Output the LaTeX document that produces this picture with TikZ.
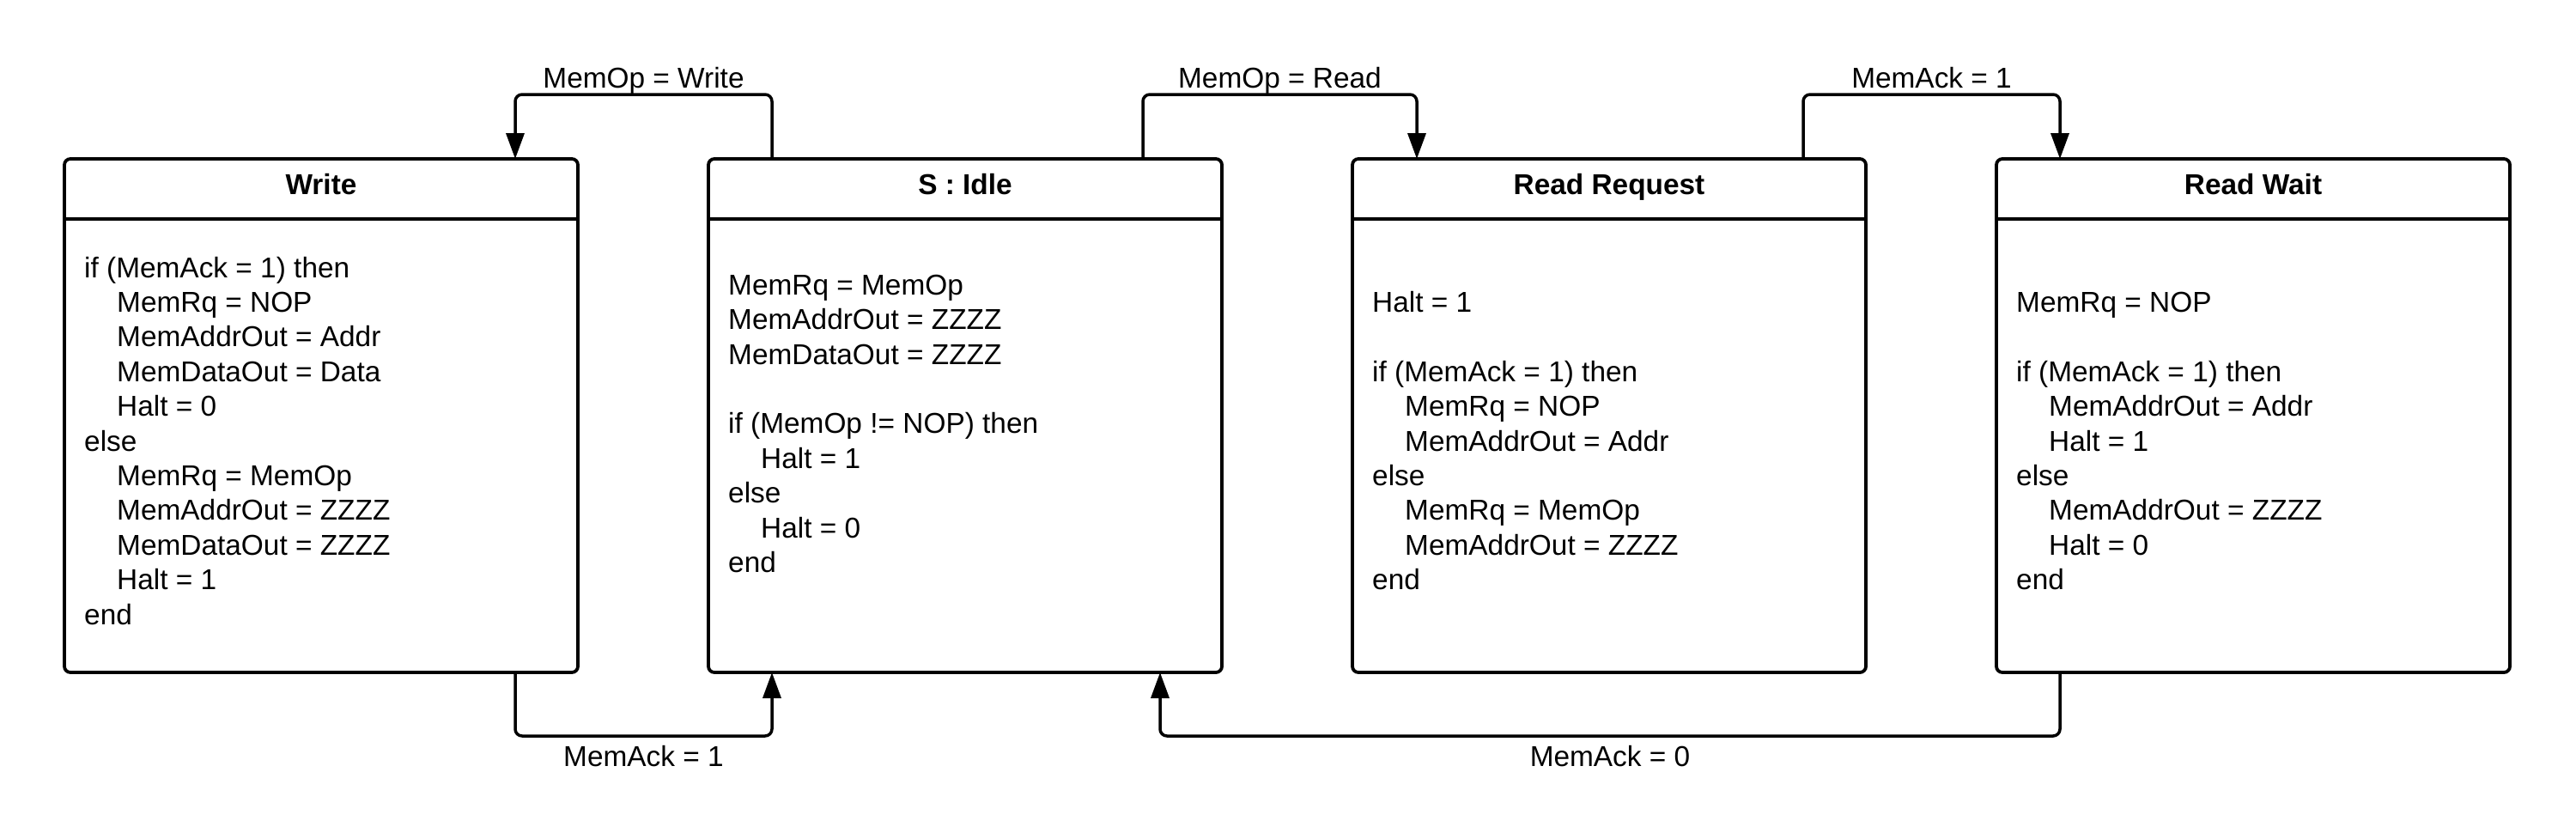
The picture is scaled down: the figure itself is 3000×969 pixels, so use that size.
\documentclass[tikz,border=0pt]{standalone}
\usepackage{fontspec}
\setmainfont{Liberation Sans}
\usetikzlibrary{arrows.meta,calc}
\newcommand{\tline}[1]{\hbox{#1}}
\newcommand{\tabin}{\kern38pt}
\tikzset{
  state/.style={draw, line width=3.8pt, rounded corners=7pt, minimum width=598pt, minimum height=598pt, inner sep=0pt, outer sep=0pt},
  hdr/.style={line width=3.8pt},
  title/.style={font=\bfseries\fontsize{33.4pt}{38pt}\selectfont, anchor=base, inner sep=0pt},
  body/.style={font=\fontsize{33.4pt}{40.4pt}\selectfont, anchor=base west, inner sep=0pt},
  conn/.style={line width=3.5pt, rounded corners=8pt, -{Triangle[length=30pt,width=21pt]}},
  lbl/.style={font=\fontsize{33.4pt}{38pt}\selectfont, anchor=base, inner sep=0pt},
}
\begin{document}
\begin{tikzpicture}[x=1pt,y=-1pt]
\useasboundingbox (0,0) rectangle (3000,969);
% states
\node[state] (write) at (374,484) {};
\node[state] (idle)  at (1124,484) {};
\node[state] (rreq)  at (1874,484) {};
\node[state] (rwait) at (2624,484) {};
\foreach \b in {write,idle,rreq,rwait}
  \draw[hdr] ($(\b.north west)+(0,70)$) -- ($(\b.north east)+(0,70)$);
% titles
\node[title] (twrite) at (374,226)  {Write};
\node[title] (tidle)  at (1124,226) {S : Idle};
\node[title] (trreq)  at (1874,226) {Read Request};
\node[title] (trwait) at (2624,226) {Read Wait};
% bodies
\node[body] (bwrite) at (98,323) {\vtop{%
  \tline{if (MemAck = 1) then}
  \tline{\tabin MemRq = NOP}
  \tline{\tabin MemAddrOut = Addr}
  \tline{\tabin MemDataOut = Data}
  \tline{\tabin Halt = 0}
  \tline{else}
  \tline{\tabin MemRq = MemOp}
  \tline{\tabin MemAddrOut = ZZZZ}
  \tline{\tabin MemDataOut = ZZZZ}
  \tline{\tabin Halt = 1}
  \tline{end}}};
\node[body] (bidle) at (848,343.3) {\vtop{%
  \tline{MemRq = MemOp}
  \tline{MemAddrOut = ZZZZ}
  \tline{MemDataOut = ZZZZ}
  \tline{}
  \tline{if (MemOp != NOP) then}
  \tline{\tabin Halt = 1}
  \tline{else}
  \tline{\tabin Halt = 0}
  \tline{end}}};
\node[body] (brreq) at (1598,363.5) {\vtop{%
  \tline{Halt = 1}
  \tline{}
  \tline{if (MemAck = 1) then}
  \tline{\tabin MemRq = NOP}
  \tline{\tabin MemAddrOut = Addr}
  \tline{else}
  \tline{\tabin MemRq = MemOp}
  \tline{\tabin MemAddrOut = ZZZZ}
  \tline{end}}};
\node[body] (brwait) at (2348,363.5) {\vtop{%
  \tline{MemRq = NOP}
  \tline{}
  \tline{if (MemAck = 1) then}
  \tline{\tabin MemAddrOut = Addr}
  \tline{\tabin Halt = 1}
  \tline{else}
  \tline{\tabin MemAddrOut = ZZZZ}
  \tline{\tabin Halt = 0}
  \tline{end}}};
% connectors
\draw[conn] ($(idle.north west)+(74,0)$) -- ++(0,-75) -| ($(write.north east)+(-73,0)$);
\draw[conn] ($(idle.north east)+(-92,0)$) -- ++(0,-75) -| ($(rreq.north west)+(75,0)$);
\draw[conn] ($(rreq.north east)+(-73,0)$) -- ++(0,-75) -| ($(rwait.north west)+(74,0)$);
\draw[conn] ($(write.south east)+(-73,0)$) -- ++(0,74) -| ($(idle.south west)+(74,0)$);
\draw[conn] ($(rwait.south west)+(74,0)$) -- ++(0,74) -| ($(idle.south east)+(-72,0)$);
% labels
\node[lbl] (lw)  at (749.5,102)  {MemOp = Write};
\node[lbl] (lr)  at (1490.5,102) {MemOp = Read};
\node[lbl] (la1) at (2249.5,102) {MemAck = 1};
\node[lbl] (lb1) at (749.5,892)  {MemAck = 1};
\node[lbl] (lb0) at (1875,892)   {MemAck = 0};
\end{tikzpicture}
\end{document}
